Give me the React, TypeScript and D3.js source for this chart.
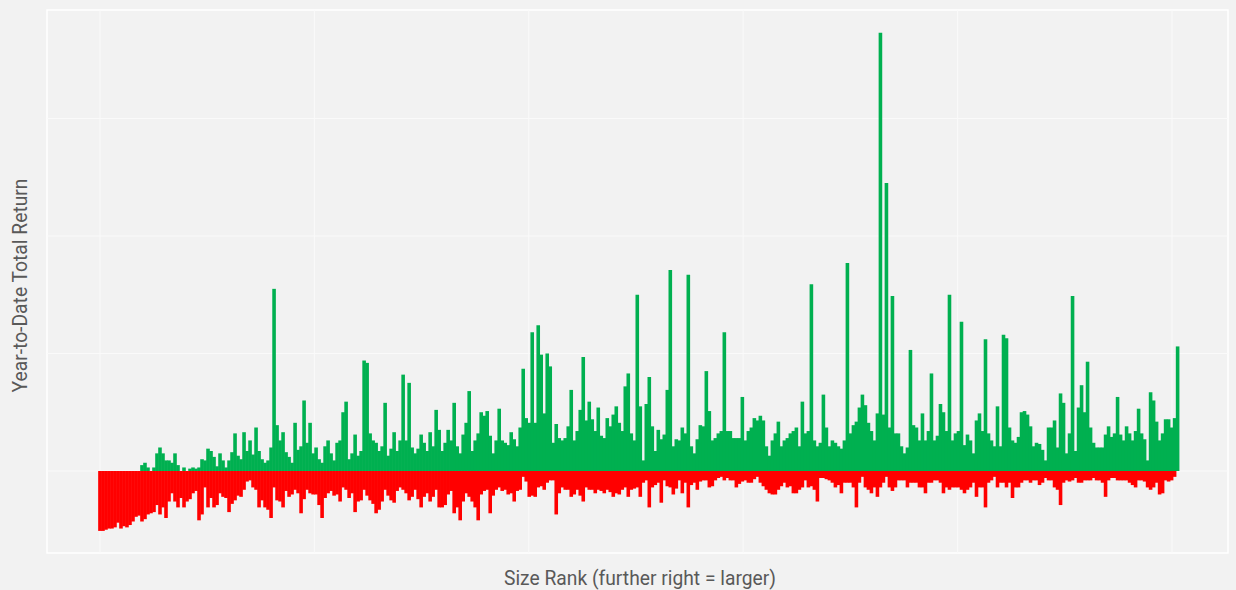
import React from 'react';
import * as d3 from 'd3';

// best (max) year-to-date return per size-rank bucket, in %
const bestReturn = [
  0, 0, 0, 0, 0, 0, 0, 0, 0, 0, 0, 0, 0, 0,
  5, 7, 3, 0, 3, 15, 20, 15, 9, 9,
  7, 15, 5, 0, 3, 0, 2, 3, 2, 3,
  10, 9, 19, 17, 12, 4, 15, 9, 3, 9,
  16, 32, 13, 10, 33, 17, 26, 14, 37, 17,
  10, 7, 9, 20, 155, 39, 26, 33, 16, 12,
  7, 41, 18, 21, 60, 24, 41, 15, 20, 10,
  7, 21, 26, 15, 9, 24, 26, 50, 59, 10,
  15, 31, 13, 17, 94, 92, 32, 26, 24, 17,
  21, 58, 13, 19, 33, 17, 26, 82, 26, 75,
  20, 15, 19, 31, 24, 17, 33, 21, 52, 35,
  17, 24, 35, 26, 58, 21, 15, 31, 41, 68,
  17, 26, 32, 50, 47, 51, 30, 15, 26, 53,
  26, 24, 22, 33, 27, 21, 37, 87, 45, 41,
  118, 41, 124, 99, 49, 100, 89, 24, 40, 28,
  26, 28, 38, 69, 26, 34, 52, 97, 43, 59,
  44, 34, 54, 30, 28, 45, 38, 48, 55, 41,
  34, 72, 83, 32, 26, 150, 55, 9, 57, 80,
  38, 17, 35, 27, 31, 69, 171, 21, 27, 26,
  37, 32, 167, 21, 15, 27, 39, 38, 85, 51,
  26, 28, 32, 34, 118, 34, 34, 28, 28, 28,
  63, 26, 34, 37, 45, 43, 47, 43, 21, 13,
  26, 32, 42, 21, 26, 28, 32, 34, 37, 21,
  59, 32, 34, 159, 26, 21, 24, 65, 37, 21,
  26, 24, 21, 19, 26, 177, 32, 39, 42, 54,
  65, 56, 41, 34, 26, 49, 373, 48, 245, 37,
  149, 32, 32, 21, 15, 20, 103, 39, 37, 26,
  49, 26, 34, 83, 26, 30, 57, 50, 34, 150,
  26, 32, 34, 127, 22, 31, 26, 15, 43, 49,
  34, 112, 32, 26, 21, 55, 21, 116, 113, 37,
  26, 24, 29, 50, 51, 48, 38, 21, 24, 23,
  18, 9, 37, 37, 43, 20, 66, 58, 15, 32,
  149, 17, 54, 73, 50, 93, 37, 24, 20, 20,
  20, 31, 38, 29, 32, 63, 31, 26, 38, 32,
  26, 34, 53, 32, 27, 9, 67, 60, 42, 26,
  32, 44, 44, 37, 45, 106,
];

// worst (min) year-to-date return per size-rank bucket, in %
const worstReturn = [
  -51, -51, -50, -49, -49, -48, -44, -49, -47, -48,
  -46, -43, -39, -38, -43, -41, -37, -36, -35, -29,
  -37, -31, -40, -26, -19, -26, -31, -23, -31, -26,
  -24, -19, -17, -42, -37, -14, -31, -23, -31, -29,
  -19, -22, -23, -35, -28, -25, -21, -22, -16, -9,
  -8, -14, -16, -31, -25, -31, -33, -40, -14, -25,
  -26, -31, -17, -22, -20, -16, -19, -36, -24, -16,
  -19, -20, -20, -29, -40, -23, -19, -17, -21, -20,
  -26, -14, -16, -23, -19, -35, -26, -25, -16, -21,
  -25, -28, -36, -33, -26, -16, -21, -25, -27, -17,
  -14, -16, -19, -25, -22, -16, -24, -31, -22, -19,
  -26, -22, -16, -31, -31, -29, -20, -17, -36, -31,
  -42, -26, -19, -22, -26, -31, -42, -20, -17, -16,
  -36, -21, -16, -14, -17, -16, -20, -19, -26, -17,
  -16, -5, -9, -22, -21, -22, -14, -13, -16, -10,
  -8, -8, -37, -19, -14, -16, -16, -22, -20, -16,
  -21, -26, -14, -16, -16, -19, -16, -17, -19, -16,
  -18, -22, -19, -20, -16, -14, -22, -16, -15, -14,
  -22, -10, -8, -31, -14, -12, -10, -27, -8, -13,
  -14, -20, -15, -8, -19, -10, -31, -12, -10, -16,
  -9, -8, -8, -14, -13, -8, -6, -5, -8, -6,
  -8, -8, -14, -11, -9, -8, -10, -10, -7, -5,
  -10, -13, -16, -19, -20, -20, -16, -13, -10, -14,
  -13, -19, -19, -16, -14, -8, -14, -13, -16, -26,
  -6, -6, -7, -8, -10, -14, -12, -19, -10, -10,
  -10, -14, -31, -10, -5, -14, -16, -19, -14, -22,
  -14, -10, -5, -14, -17, -14, -8, -8, -8, -14,
  -10, -10, -10, -14, -14, -19, -10, -10, -8, -8,
  -10, -19, -14, -16, -14, -14, -14, -16, -19, -16,
  -14, -10, -22, -14, -14, -31, -10, -8, -5, -14,
  -10, -10, -14, -10, -23, -14, -14, -10, -8, -8,
  -10, -8, -8, -12, -10, -6, -8, -8, -14, -16,
  -29, -10, -8, -9, -8, -6, -10, -10, -8, -8,
  -8, -6, -8, -8, -10, -22, -8, -6, -6, -8,
  -8, -8, -8, -10, -12, -14, -8, -8, -9, -14,
  -16, -14, -10, -20, -19, -8, -9, -8, -5, 0,
];

const bucketSize = 14; // ranks per bucket
const xGridTicks = [0, 1000, 2000, 3000, 4000, 5000];
const yGridTicks = [0, 100, 200, 300];

const W = 1236;
const H = 590;
const plot = { left: 47, right: 1228, top: 10, bottom: 553 };

export default function App() {
  const x = d3.scaleLinear().domain([-247, 5261]).range([plot.left, plot.right]);
  const y = d3.scaleLinear().domain([-69.8, 392.3]).range([plot.bottom, plot.top]);
  const barW = 3.6;

  return (
    <svg
      width={W}
      height={H}
      style={{ position: 'absolute', left: 0, top: 0, display: 'block' }}
      fontFamily="Roboto, 'Liberation Sans', sans-serif"
    >
      <rect x={0} y={0} width={W} height={H} fill="#f2f2f2" />
      <rect
        x={plot.left}
        y={plot.top}
        width={plot.right - plot.left}
        height={plot.bottom - plot.top}
        fill="#f2f2f2"
        stroke="#ffffff"
        strokeWidth={1.5}
      />
      {xGridTicks.map(t => (
        <line key={'xg' + t} x1={x(t)} x2={x(t)} y1={plot.top} y2={plot.bottom} stroke="#fafafa" strokeWidth={1} />
      ))}
      {yGridTicks.map(t => (
        <line key={'yg' + t} x1={plot.left} x2={plot.right} y1={y(t)} y2={y(t)} stroke="#fafafa" strokeWidth={1} />
      ))}
      <g>
        {worstReturn.map((v, i) =>
          v < 0 ? (
            <line key={'r' + i} x1={x(i * bucketSize)} x2={x(i * bucketSize)} y1={y(0)} y2={y(v)} stroke="#ff0000" strokeWidth={barW} />
          ) : null
        )}
      </g>
      <g>
        {bestReturn.map((v, i) =>
          v > 0 ? (
            <line key={'g' + i} x1={x(i * bucketSize)} x2={x(i * bucketSize)} y1={y(0)} y2={y(v)} stroke="#00b050" strokeWidth={barW} />
          ) : null
        )}
      </g>
      <text
        x={640}
        y={585}
        textAnchor="middle"
        fontSize={21}
        fill="#595959"
        textLength={272}
        lengthAdjust="spacingAndGlyphs"
      >
        Size Rank (further right = larger)
      </text>
      <text
        transform={`translate(27, ${(plot.top + plot.bottom) / 2 + 4}) rotate(-90)`}
        textAnchor="middle"
        fontSize={21}
        fill="#595959"
        textLength={214}
        lengthAdjust="spacingAndGlyphs"
      >
        Year-to-Date Total Return
      </text>
    </svg>
  );
}
